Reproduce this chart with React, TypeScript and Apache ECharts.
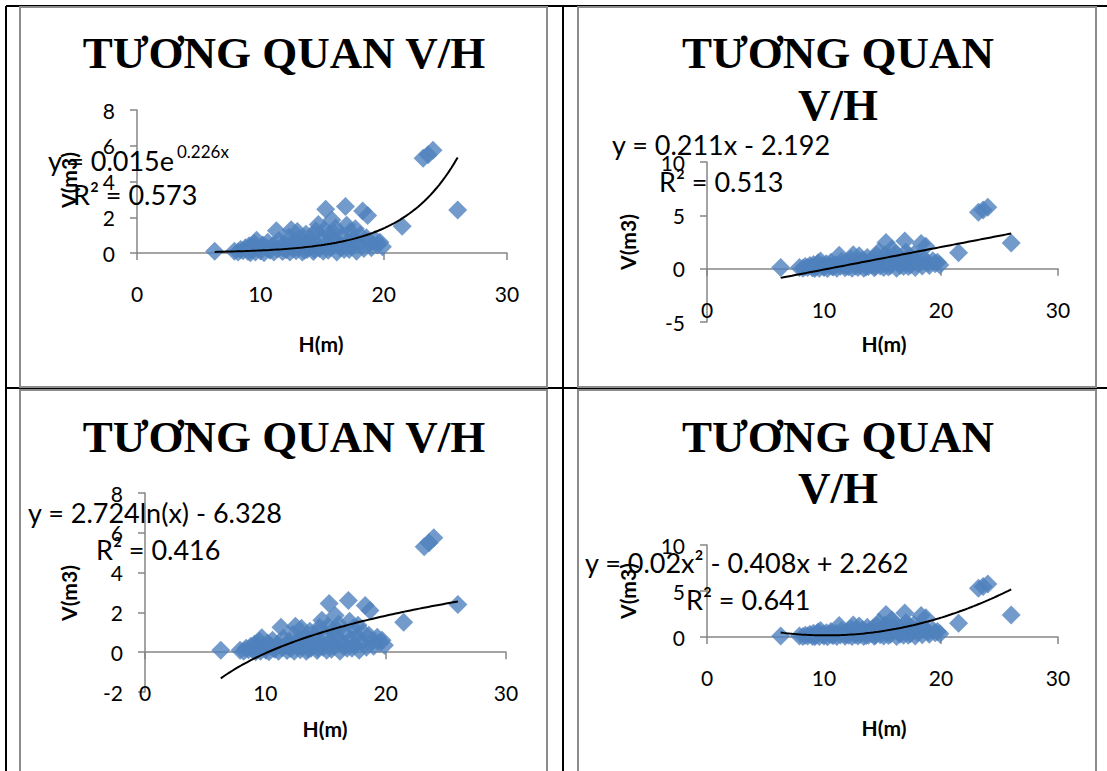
import React, { useEffect, useRef } from "react";
import * as echarts from "echarts";

// Tree height H (m) and stem volume V (m3), one pair per measured tree
const heights = [
  6.3, 7.9, 8.2, 8.4, 8.6, 8.8, 9.0, 9.1, 9.2, 9.3, 9.4, 9.5, 9.6, 9.7, 9.9,
  10.0, 10.2, 10.3, 10.5, 10.6, 10.7, 10.8, 11.0, 11.1, 11.3, 11.4, 11.5, 11.7,
  11.8, 11.9, 12.0, 12.1, 12.3, 12.4, 12.5, 12.6, 12.7, 12.8, 12.9, 13.0, 13.1,
  13.3, 13.4, 13.5, 13.6, 13.7, 13.8, 13.9, 14.1, 14.2, 14.3, 14.4, 14.5, 14.6,
  14.7, 14.8, 15.0, 15.1, 15.2, 15.3, 15.4, 15.5, 15.6, 15.7, 15.8, 15.9, 16.0,
  16.1, 16.2, 16.4, 16.5, 16.6, 16.8, 16.9, 17.0, 17.1, 17.2, 17.3, 17.4, 17.6,
  17.7, 17.8, 18.0, 18.1, 18.3, 18.4, 18.6, 18.7, 18.9, 19.0, 19.3, 19.5, 19.7,
  19.9, 21.5, 23.2, 23.6, 24.0, 26.0,
];
const volumes = [
  0.1, 0.1, 0.05, 0.2, 0.12, 0.3, 0.08, 0.4, 0.02, 0.18, 0.35, 0.55, 0.05, 0.72,
  0.28, 0.12, 0.45, 0.02, 0.3, 0.6, 0.2, 0.15, 0.4, 0.05, 1.25, 0.22, 0.7, 0.35,
  0.08, 0.3, 0.55, 0.18, 0.9, 0.05, 1.3, 0.4, 0.25, 0.65, 0.12, 1.2, 0.3, 0.8,
  0.05, 0.5, 0.15, 1.05, 0.2, 0.65, 0.35, 0.95, 0.08, 0.2, 1.25, 0.5, 1.6, 0.25,
  0.8, 0.1, 1.3, 2.45, 0.55, 0.15, 1.05, 0.3, 1.85, 0.75, 1.1, 1.4, 0.05, 0.5,
  0.3, 0.95, 0.2, 2.6, 1.55, 0.65, 0.2, 1.2, 0.35, 0.8, 1.35, 0.1, 0.5, 1.0,
  2.35, 0.25, 0.85, 2.1, 0.55, 0.3, 0.75, 0.45, 0.6, 0.35, 1.5, 5.3, 5.5, 5.75,
  2.4,
];

// Fitted trend coefficients, as printed on each panel
const expCoef = [0.015, 0.226]; // y = a·e^(bx)
const linCoef = [0.211, -2.192]; // y = ax + b
const logCoef = [2.724, -6.328]; // y = a·ln(x) + b
const polyCoef = [0.02, -0.408, 2.262]; // y = ax² + bx + c
const rSquared = ["0.573", "0.513", "0.416", "0.641"];

const xTicks = [0, 30, 10];
const yTicks = [
  [0, 8, 2],
  [-5, 10, 5],
  [-2, 8, 2],
  [0, 10, 5],
];

const titleOneLine = ["TƯƠNG QUAN V/H"];
const titleTwoLines = ["TƯƠNG QUAN", "V/H"];
const xName = "H(m)";
const yName = "V(m3)";

const trendFns = [
  (x: number) => expCoef[0] * Math.exp(expCoef[1] * x),
  (x: number) => linCoef[0] * x + linCoef[1],
  (x: number) => logCoef[0] * Math.log(x) + logCoef[1],
  (x: number) => polyCoef[0] * x * x + polyCoef[1] * x + polyCoef[2],
];

const BLUE = "#4F81BD";
const AXIS_GRAY = "#868686";
const BOX_GRAY = "#8c8c8c";
const SANS = "Lato";
const SERIF = "Liberation Serif";

type Panel = {
  box: [number, number, number, number];
  grid: [number, number, number, number];
  title: string[];
  titleX: number;
  titleY: number[];
  eq: { text: string; x: number; y: number }[];
  sup?: { text: string; x: number; y: number };
  xNameAt: [number, number];
  yNameAt: [number, number];
};

const panels: Panel[] = [
  {
    box: [20, 7, 527, 380],
    grid: [137, 110, 370, 143],
    title: titleOneLine,
    titleX: 284,
    titleY: [53],
    eq: [
      { text: "y = 0.015e", x: 48, y: 160 },
      { text: "R² = " + rSquared[0], x: 73, y: 194 },
    ],
    sup: { text: "0.226x", x: 177, y: 151 },
    xNameAt: [321, 343],
    yNameAt: [68, 180],
  },
  {
    box: [578, 7, 518, 380],
    grid: [707, 162, 351, 160],
    title: titleTwoLines,
    titleX: 838,
    titleY: [53, 105],
    eq: [
      { text: "y = 0.211x - 2.192", x: 612, y: 144 },
      { text: "R² = " + rSquared[1], x: 659, y: 181 },
    ],
    xNameAt: [884, 343],
    yNameAt: [627, 242],
  },
  {
    box: [20, 390, 527, 400],
    grid: [145, 493, 361, 199],
    title: titleOneLine,
    titleX: 284,
    titleY: [437],
    eq: [
      { text: "y = 2.724ln(x) - 6.328", x: 28, y: 512 },
      { text: "R² = " + rSquared[2], x: 96, y: 549 },
    ],
    xNameAt: [325, 728],
    yNameAt: [68, 593],
  },
  {
    box: [578, 390, 518, 400],
    grid: [707, 545, 351, 92],
    title: titleTwoLines,
    titleX: 838,
    titleY: [437, 488],
    eq: [
      { text: "y = 0.02x² - 0.408x + 2.262", x: 585, y: 562 },
      { text: "R² = " + rSquared[3], x: 686, y: 599 },
    ],
    xNameAt: [884, 727],
    yNameAt: [627, 591],
  },
];

function trendData(fn: (x: number) => number) {
  const lo = Math.min(...heights);
  const hi = Math.max(...heights);
  const steps = 80;
  const pts: number[][] = [];
  for (let i = 0; i <= steps; i++) {
    const x = lo + ((hi - lo) * i) / steps;
    pts.push([x, fn(x)]);
  }
  return pts;
}

// distance (px) from the grid's bottom edge up to the y = 0 line
function zeroOffset(i: number) {
  const [min, max] = yTicks[i];
  const h = panels[i].grid[3];
  return min < 0 ? (h * (0 - min)) / (max - min) : 0;
}

function buildOption() {
  const points = heights.map((h, i) => [h, volumes[i]]);
  const graphic: any[] = [];

  // table rules drawn in the gaps between the chart frames
  const black = { stroke: "#000", lineWidth: 2 };
  graphic.push(
    { type: "line", shape: { x1: 6, y1: 6, x2: 1107, y2: 6 }, style: black, z: -200, silent: true },
    { type: "line", shape: { x1: 6, y1: 6, x2: 6, y2: 771 }, style: black, z: -200, silent: true },
    { type: "line", shape: { x1: 563, y1: 6, x2: 563, y2: 771 }, style: black, z: -200, silent: true },
    { type: "line", shape: { x1: 6, y1: 388, x2: 1107, y2: 388 }, style: black, z: -200, silent: true }
  );

  panels.forEach((p) => {
    graphic.push({
      type: "rect",
      shape: { x: p.box[0], y: p.box[1], width: p.box[2], height: p.box[3] },
      style: { fill: "#fff", stroke: BOX_GRAY, lineWidth: 2 },
      z: -100,
      silent: true,
    });
    p.title.forEach((line, k) => {
      graphic.push({
        type: "text",
        x: p.titleX,
        y: p.titleY[k],
        style: {
          text: line,
          font: `bold 45px "${SERIF}"`,
          fill: "#000",
          align: "center",
          verticalAlign: "middle",
        },
        z: 10,
      });
    });
    p.eq.forEach((e) => {
      graphic.push({
        type: "text",
        x: e.x,
        y: e.y,
        style: {
          text: e.text,
          font: `27px "${SANS}"`,
          fill: "#000",
          align: "left",
          verticalAlign: "middle",
        },
        z: 10,
      });
    });
    if (p.sup) {
      graphic.push({
        type: "text",
        x: p.sup.x,
        y: p.sup.y,
        style: {
          text: p.sup.text,
          font: `17px "${SANS}"`,
          fill: "#000",
          align: "left",
          verticalAlign: "middle",
        },
        z: 10,
      });
    }
    graphic.push({
      type: "text",
      x: p.xNameAt[0],
      y: p.xNameAt[1],
      style: {
        text: xName,
        font: `bold 21px "${SANS}"`,
        fill: "#000",
        align: "center",
        verticalAlign: "middle",
      },
      z: 10,
    });
    graphic.push({
      type: "text",
      x: p.yNameAt[0],
      y: p.yNameAt[1],
      rotation: Math.PI / 2,
      style: {
        text: yName,
        font: `bold 21px "${SANS}"`,
        fill: "#000",
        align: "center",
        verticalAlign: "middle",
      },
      z: 10,
    });
  });

  const axisLabel = { fontFamily: SANS, fontSize: 21, color: "#000" };

  return {
    animation: false,
    backgroundColor: "#fff",
    grid: panels.map((p) => ({
      left: p.grid[0],
      top: p.grid[1],
      width: p.grid[2],
      height: p.grid[3],
    })),
    xAxis: panels.map((_, i) => ({
      gridIndex: i,
      type: "value",
      min: xTicks[0],
      max: xTicks[1],
      interval: xTicks[2],
      position: "bottom",
      // the horizontal axis crosses at V = 0, its labels follow it
      offset: -zeroOffset(i),
      axisLine: { show: true, onZero: false, lineStyle: { color: AXIS_GRAY, width: 1.5 } },
      axisTick: { show: true, length: 7, lineStyle: { color: AXIS_GRAY, width: 1.5 } },
      axisLabel: { ...axisLabel, margin: 30 },
      splitLine: { show: false },
    })),
    yAxis: panels.map((_, i) => ({
      gridIndex: i,
      type: "value",
      min: yTicks[i][0],
      max: yTicks[i][1],
      interval: yTicks[i][2],
      axisLine: { show: true, onZero: false, lineStyle: { color: AXIS_GRAY, width: 1.5 } },
      axisTick: { show: true, length: 7, lineStyle: { color: AXIS_GRAY, width: 1.5 } },
      axisLabel: { ...axisLabel, margin: 22 },
      splitLine: { show: false },
    })),
    series: [
      ...panels.map((_, i) => ({
        type: "scatter",
        xAxisIndex: i,
        yAxisIndex: i,
        data: points,
        symbol: "diamond",
        symbolSize: 19,
        itemStyle: { color: BLUE },
        z: 3,
      })),
      ...panels.map((_, i) => ({
        type: "line",
        xAxisIndex: i,
        yAxisIndex: i,
        data: trendData(trendFns[i]),
        showSymbol: false,
        symbol: "none",
        lineStyle: { color: "#000", width: 2 },
        z: 4,
      })),
    ],
    graphic,
  };
}

export default function App() {
  const ref = useRef<HTMLDivElement>(null);
  useEffect(() => {
    if (!ref.current) return;
    const chart = echarts.init(ref.current, undefined, { renderer: "svg" });
    chart.setOption(buildOption() as any);
    return () => chart.dispose();
  }, []);
  return (
    <div
      ref={ref}
      style={{ position: "fixed", left: 0, top: 0, width: 1107, height: 771, background: "#fff" }}
    />
  );
}
